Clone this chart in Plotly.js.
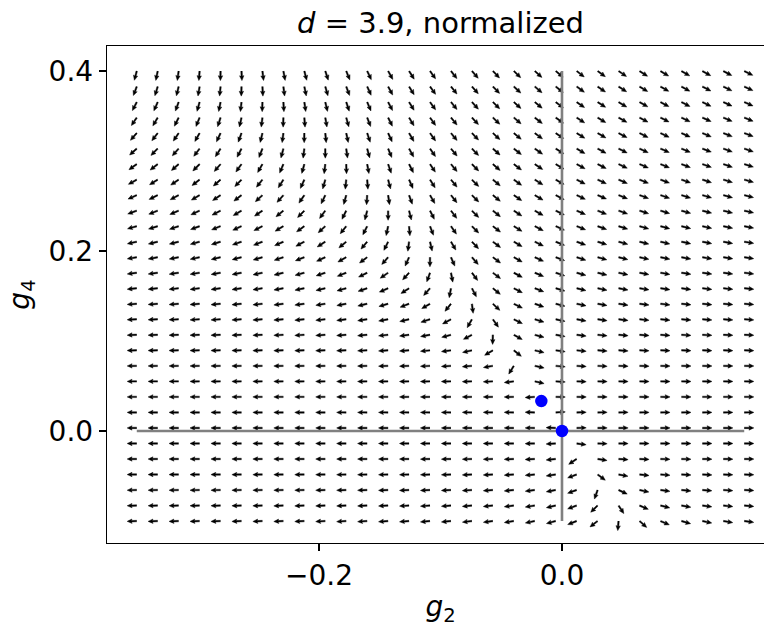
<!DOCTYPE html>
<html>
<head>
<meta charset="utf-8">
<script src="https://cdn.plot.ly/plotly-3.0.1.min.js"></script>
<style>
html,body{margin:0;padding:0;overflow:hidden;background:#fff;}
#chart{width:775px;height:627px;}
</style>
</head>
<body>
<div id="chart"></div>
<script>
// ---------- data ----------
const dimension = 3.9;                       // d
const titleText = "<i>d</i> = 3.9, normalized";
// grid of couplings where the flow is sampled (30 x 30)
const g2Grid = [-0.35, -0.332759, -0.315517, -0.298276, -0.281034, -0.263793, -0.246552, -0.22931,
  -0.212069, -0.194828, -0.177586, -0.160345, -0.143103, -0.125862, -0.108621, -0.091379,
  -0.074138, -0.056897, -0.039655, -0.022414, -0.005172, 0.012069, 0.02931, 0.046552,
  0.063793, 0.081034, 0.098276, 0.115517, 0.132759, 0.15];
const g4Grid = [-0.1, -0.082759, -0.065517, -0.048276, -0.031034, -0.013793, 0.003448, 0.02069,
  0.037931, 0.055172, 0.072414, 0.089655, 0.106897, 0.124138, 0.141379, 0.158621,
  0.175862, 0.193103, 0.210345, 0.227586, 0.244828, 0.262069, 0.27931, 0.296552,
  0.313793, 0.331034, 0.348276, 0.365517, 0.382759, 0.4];
// fixed points (Wilson-Fisher, Gaussian)
const fixedG2 = [-0.0170, 0.0];
const fixedG4 = [0.0333, 0.0];
// reference axes lines
const hLineG2 = [-0.35, 0.15], hLineG4 = [0, 0];
const vLineG2 = [0, 0], vLineG4 = [-0.1, 0.4];
const xTickVals = [-0.2, 0.0], xTickText = ["\u22120.2", "0.0"];
const yTickVals = [0.0, 0.2, 0.4], yTickText = ["0.0", "0.2", "0.4"];

// RG flow (towards the IR)
const eps = 4 - dimension;
function beta(g2, g4) {
  return [2 * g2 + g4 / (1 + g2), eps * g4 - 3 * g4 * g4];
}

// ---------- layout geometry ----------
const W = 775, H = 627;
const M = {l: 107, r: 1, t: 46, b: 84};
const xRange = [-0.3745, 0.1745];
const yRange = [-0.1244, 0.4278];
const pw = W - M.l - M.r, ph = H - M.t - M.b;
const kx = pw / (xRange[1] - xRange[0]);   // px per data unit
const ky = ph / (yRange[1] - yRange[0]);

// arrow shape in px (matplotlib-like quiver, pivot at tail)
const L = 9.6, sw = 0.72, hl = 4.9, ha = 4.3, hw = 2.2;
const shape = [[0, -sw], [L - ha, -sw], [L - hl, -hw], [L, 0], [L - hl, hw], [L - ha, sw], [0, sw]];

const ax = [], ay = [];
for (const y0 of g4Grid) {
  for (const x0 of g2Grid) {
    const b = beta(x0, y0);
    const n = Math.hypot(b[0], b[1]);
    const u = b[0] / n, v = b[1] / n;          // normalized
    // angles='xy': direction taken in screen space
    let dx = u * kx, dy = v * ky;
    const m = Math.hypot(dx, dy);
    dx /= m; dy /= m;
    for (const p of shape) {
      const ox = p[0] * dx - p[1] * dy;
      const oy = p[0] * dy + p[1] * dx;
      ax.push(x0 + ox / kx);
      ay.push(y0 + oy / ky);
    }
    ax.push(null); ay.push(null);
  }
}

const traces = [
  {type: "scatter", mode: "lines", x: ax, y: ay, fill: "toself", fillcolor: "#000000",
   line: {width: 0.45, color: "#000000"}, hoverinfo: "skip", showlegend: false},
  {type: "scatter", mode: "lines", x: hLineG2, y: hLineG4, line: {color: "#808080", width: 2.6},
   hoverinfo: "skip", showlegend: false},
  {type: "scatter", mode: "lines", x: vLineG2, y: vLineG4, line: {color: "#808080", width: 2.6},
   hoverinfo: "skip", showlegend: false},
  {type: "scatter", mode: "markers", x: fixedG2, y: fixedG4,
   marker: {color: "#0000ff", size: 12.5, line: {width: 0}}, showlegend: false}
];

const font = {family: "DejaVu Sans, sans-serif", color: "#000000", size: 28};
const layout = {
  width: W, height: H,
  margin: M,
  paper_bgcolor: "#ffffff", plot_bgcolor: "#ffffff",
  font: font,
  showlegend: false,
  title: {text: titleText, font: {family: font.family, size: 29, color: "#000"},
          x: 0.5, xref: "paper", xanchor: "center", y: 1 - 23 / H, yref: "container", yanchor: "middle"},
  xaxis: {range: xRange, showgrid: false, zeroline: false, showline: true, linecolor: "#000",
          linewidth: 1.3, mirror: true, ticks: "outside", ticklen: 7, tickwidth: 1.3, tickcolor: "#000",
          tickvals: xTickVals, ticktext: xTickText, tickfont: {size: 28},
          title: {text: "<i>g</i><sub>2</sub>", font: {size: 28}, standoff: 6}},
  yaxis: {range: yRange, showgrid: false, zeroline: false, showline: true, linecolor: "#000",
          linewidth: 1.3, mirror: true, ticks: "outside", ticklen: 7, tickwidth: 1.3, tickcolor: "#000",
          tickvals: yTickVals, ticktext: yTickText, tickfont: {size: 28},
          title: {text: "<i>g</i><sub>4</sub>", font: {size: 28}, standoff: 10}}
};

Plotly.newPlot("chart", traces, layout, {staticPlot: true, displayModeBar: false});
</script>
</body>
</html>
